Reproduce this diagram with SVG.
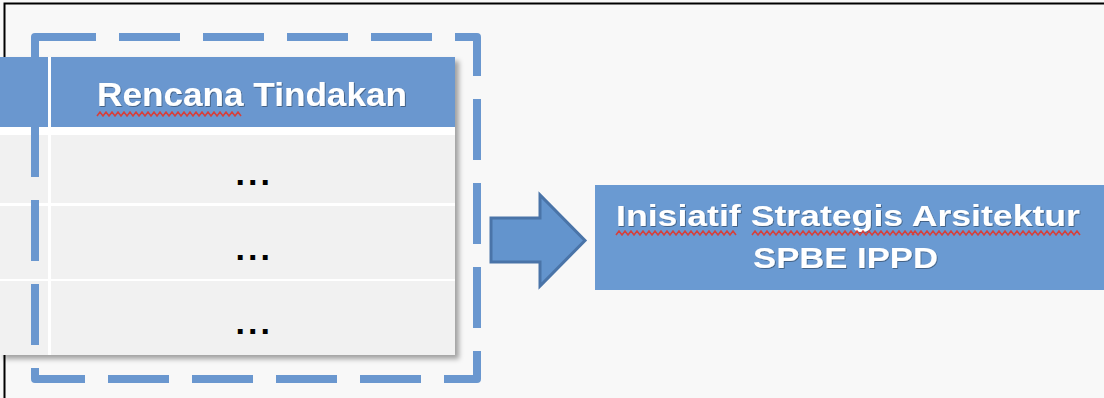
<svg xmlns="http://www.w3.org/2000/svg" width="1104" height="398" viewBox="0 0 1104 398">
<defs>
<style>
.hdr{fill:#6a97cf}
.row{fill:#f1f1f1}
.wt{fill:#ffffff;font-family:"Liberation Sans",Arial,sans-serif;font-weight:bold;filter:url(#ts)}
.dots{fill:#000;font-family:"Liberation Sans",Arial,sans-serif;font-weight:bold;font-size:34px;letter-spacing:3px}
.sq{fill:none;stroke:#d5403c;stroke-width:1.6}
</style>
<filter id="sh" x="-5%" y="-5%" width="115%" height="115%">
<feDropShadow dx="4" dy="4" stdDeviation="2.5" flood-color="#000" flood-opacity="0.35"/>
</filter>
<filter id="ts" x="-5%" y="-20%" width="110%" height="140%">
<feDropShadow dx="0.8" dy="0.8" stdDeviation="0.7" flood-color="#000" flood-opacity="0.45"/>
</filter>
</defs>
<rect x="0" y="0" width="1104" height="398" fill="#f8f8f8"/>
<path d="M4.5,398 V3.5 H1104" fill="none" stroke="#000" stroke-width="2"/>

<g id="table">
<rect x="0" y="57" width="455" height="298" fill="#ffffff" filter="url(#sh)"/>
<rect class="hdr" x="0" y="57" width="48" height="70"/>
<rect class="hdr" x="51" y="57" width="404" height="70"/>
<rect class="row" x="0" y="135" width="48" height="68"/>
<rect class="row" x="51" y="135" width="404" height="68"/>
<rect class="row" x="0" y="206" width="48" height="73"/>
<rect class="row" x="51" y="206" width="404" height="73"/>
<rect class="row" x="0" y="281" width="48" height="74"/>
<rect class="row" x="51" y="281" width="404" height="74"/>
<text class="wt" x="97" y="106" font-size="33" textLength="310" lengthAdjust="spacingAndGlyphs">Rencana Tindakan</text>
<path class="sq" d="M97,116 l3,-4 l3,4 l3,-4 l3,4 l3,-4 l3,4 l3,-4 l3,4 l3,-4 l3,4 l3,-4 l3,4 l3,-4 l3,4 l3,-4 l3,4 l3,-4 l3,4 l3,-4 l3,4 l3,-4 l3,4 l3,-4 l3,4 l3,-4 l3,4 l3,-4 l3,4 l3,-4 l3,4 l3,-4 l3,4 l3,-4 l3,4 l3,-4 l3,4 l3,-4 l3,4 l3,-4 l3,4 l3,-4 l3,4 l3,-4 l3,4 l3,-4 l3,4 l3,-4 l3,4"/>
<text class="dots" x="235.5" y="185">...</text>
<text class="dots" x="235.5" y="260">...</text>
<text class="dots" x="235.5" y="334">...</text>
</g>

<g id="group-frame">
<rect x="35" y="37" width="442" height="342" fill="none" stroke="#6a97cf" stroke-width="8" stroke-dasharray="61 23" stroke-linejoin="round"/>
</g>

<g id="target">
<rect x="595" y="185" width="509" height="105" fill="#6a9ad2"/>
<text class="wt" x="616" y="226" font-size="30" textLength="464" lengthAdjust="spacingAndGlyphs">Inisiatif Strategis Arsitektur</text>
<text class="wt" x="753" y="268" font-size="30" textLength="185" lengthAdjust="spacingAndGlyphs">SPBE IPPD</text>
<path class="sq" d="M616,235 l3,-4 l3,4 l3,-4 l3,4 l3,-4 l3,4 l3,-4 l3,4 l3,-4 l3,4 l3,-4 l3,4 l3,-4 l3,4 l3,-4 l3,4 l3,-4 l3,4 l3,-4 l3,4 l3,-4 l3,4 l3,-4 l3,4 l3,-4 l3,4 l3,-4 l3,4 l3,-4 l3,4 l3,-4 l3,4 l3,-4 l3,4 l3,-4 l3,4 l3,-4 l3,4 l3,-4 l3,4"/>
<path class="sq" d="M752,235 l3,-4 l3,4 l3,-4 l3,4 l3,-4 l3,4 l3,-4 l3,4 l3,-4 l3,4 l3,-4 l3,4 l3,-4 l3,4 l3,-4 l3,4 l3,-4 l3,4 l3,-4 l3,4 l3,-4 l3,4 l3,-4 l3,4 l3,-4 l3,4 l3,-4 l3,4 l3,-4 l3,4 l3,-4 l3,4 l3,-4 l3,4 l3,-4 l3,4 l3,-4 l3,4 l3,-4 l3,4 l3,-4 l3,4 l3,-4 l3,4 l3,-4 l3,4 l3,-4 l3,4 l3,-4 l3,4 l3,-4 l3,4 l3,-4 l3,4"/>
<path class="sq" d="M912,235 l3,-4 l3,4 l3,-4 l3,4 l3,-4 l3,4 l3,-4 l3,4 l3,-4 l3,4 l3,-4 l3,4 l3,-4 l3,4 l3,-4 l3,4 l3,-4 l3,4 l3,-4 l3,4 l3,-4 l3,4 l3,-4 l3,4 l3,-4 l3,4 l3,-4 l3,4 l3,-4 l3,4 l3,-4 l3,4 l3,-4 l3,4 l3,-4 l3,4 l3,-4 l3,4 l3,-4 l3,4 l3,-4 l3,4 l3,-4 l3,4 l3,-4 l3,4 l3,-4 l3,4 l3,-4 l3,4 l3,-4 l3,4 l3,-4 l3,4 l3,-4 l3,4"/>
</g>

<g id="connectors">
<polygon points="491,218 540,218 540,195 585,240.5 540,286 540,262 491,262" fill="#6394cd" stroke="#4a74a8" stroke-width="3" stroke-linejoin="miter"/>
</g>
</svg>
